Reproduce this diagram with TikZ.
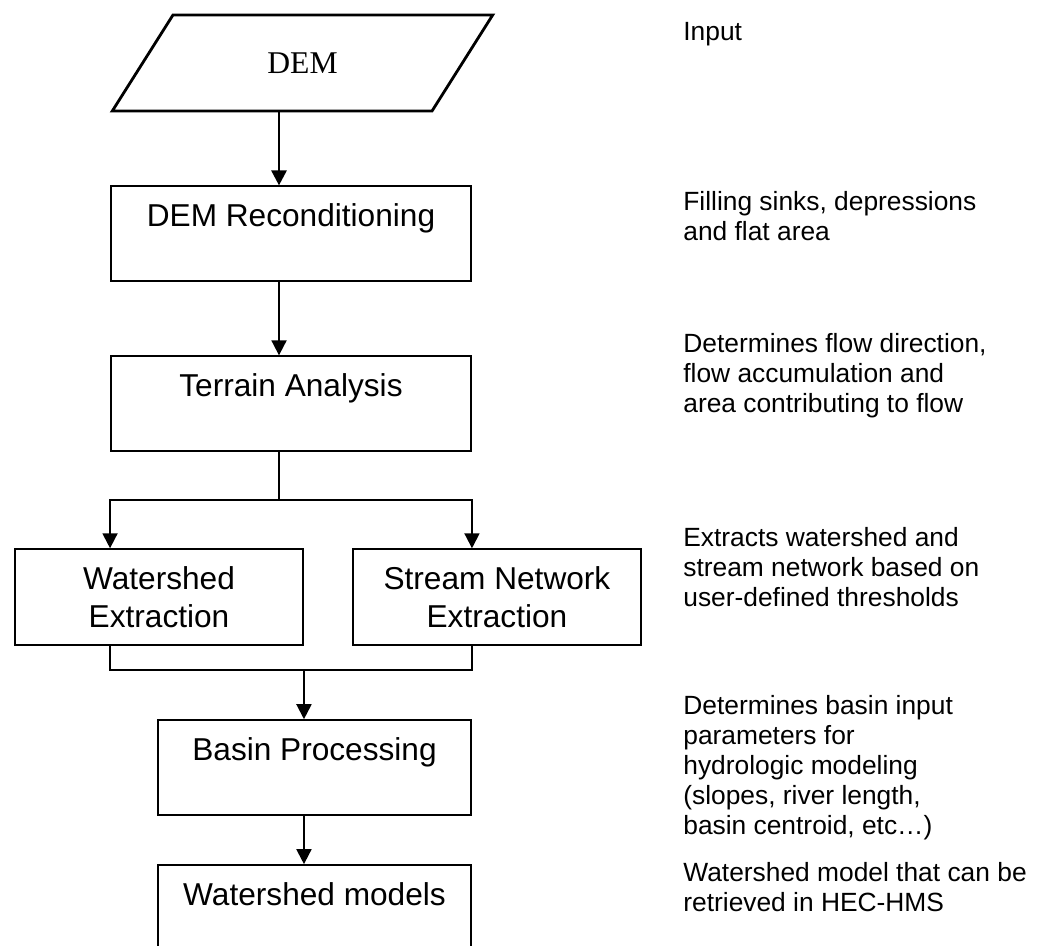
\documentclass[tikz,border=0pt]{standalone}
\usepackage{fontspec}
\setmainfont{Liberation Sans}
\newfontfamily\demfont{Liberation Serif}
\usepackage{tikz}
\usetikzlibrary{arrows.meta,positioning,shapes.geometric}

\begin{document}
\begin{tikzpicture}[
    stepbox/.style={draw,line width=1.1pt,align=center,minimum height=1.9cm,inner sep=0pt,font=\fontsize{18}{21.6}\selectfont},
    inbox/.style={draw,line width=1.6pt,trapezium,trapezium left angle=51.6,trapezium right angle=128.4,trapezium stretches=true,minimum width=7.62cm,minimum height=1.92cm,inner sep=0pt,font=\demfont\fontsize{18}{21.6}\selectfont},
    note/.style={anchor=west,align=left,inner sep=0pt,font=\fontsize{15}{17.07}\selectfont},
    link/.style={line width=1.1pt},
    >={Triangle[length=0.3cm,width=0.3cm]}
  ]
    \clip (0,0) rectangle (20.96,-18.92);
    \node[inbox] (dem) at (6.05,-1.26) {DEM};
    \node[stepbox,minimum width=7.2cm,below=1.46cm of dem,xshift=-0.23cm] (recon) {DEM Reconditioning\\\mbox{}};
    \node[stepbox,minimum width=7.2cm,below=1.46cm of recon] (terrain) {Terrain Analysis\\\mbox{}};
    \node[stepbox,minimum width=5.76cm,minimum height=1.92cm,below=1.92cm of terrain,xshift=-2.64cm] (wsx) {Watershed\\Extraction};
    \node[stepbox,minimum width=5.76cm,minimum height=1.92cm,right=0.96cm of wsx] (snx) {Stream Network\\Extraction};
    \node[stepbox,minimum width=6.26cm,below=1.46cm of wsx,xshift=3.11cm] (basin) {Basin Processing\\\mbox{}};
    \node[stepbox,minimum width=6.26cm,below=0.96cm of basin] (models) {Watershed models\\\mbox{}};
    \coordinate[below=0.96cm of terrain.south,xshift=-0.24cm] (split);
    \coordinate[below=0.48cm of wsx.south east] (merge);

    % notes on the right
    \node[note] (n1) at (13.66,-0.68) {Input};
    \node[note] (n2) at (13.66,-4.32) {Filling sinks, depressions\\and flat area};
    \node[note] (n3) at (13.66,-7.52) {Determines flow direction,\\flow accumulation and\\area contributing to flow};
    \node[note] (n4) at (13.66,-11.34) {Extracts watershed and\\stream network based on\\user-defined thresholds};
    \node[note] (n5) at (13.66,-15.35) {Determines basin input\\parameters for\\hydrologic modeling\\(slopes, river length,\\basin centroid, etc\dots)};
    \node[note] (n6) at (13.66,-17.74) {Watershed model that can be\\retrieved in HEC-HMS};

    \draw[->,line width=1.6pt] (dem.south -| split) -- (recon.north -| split);
    \draw[->,link] (recon.south -| split) -- (terrain.north -| split);
    \draw[link] (terrain.south -| split) -- (split);
    \draw[->,link] (split) -| (wsx.north -| terrain.west);
    \draw[->,link] (split) -| (snx.north -| terrain.east);
    \draw[link] (wsx.south -| terrain.west) |- (merge) -| (snx.south -| terrain.east);
    \draw[->,link] (merge) -- (basin.north -| merge);
    \draw[->,link] (basin.south -| merge) -- (models.north -| merge);
  \end{tikzpicture}
\end{document}
